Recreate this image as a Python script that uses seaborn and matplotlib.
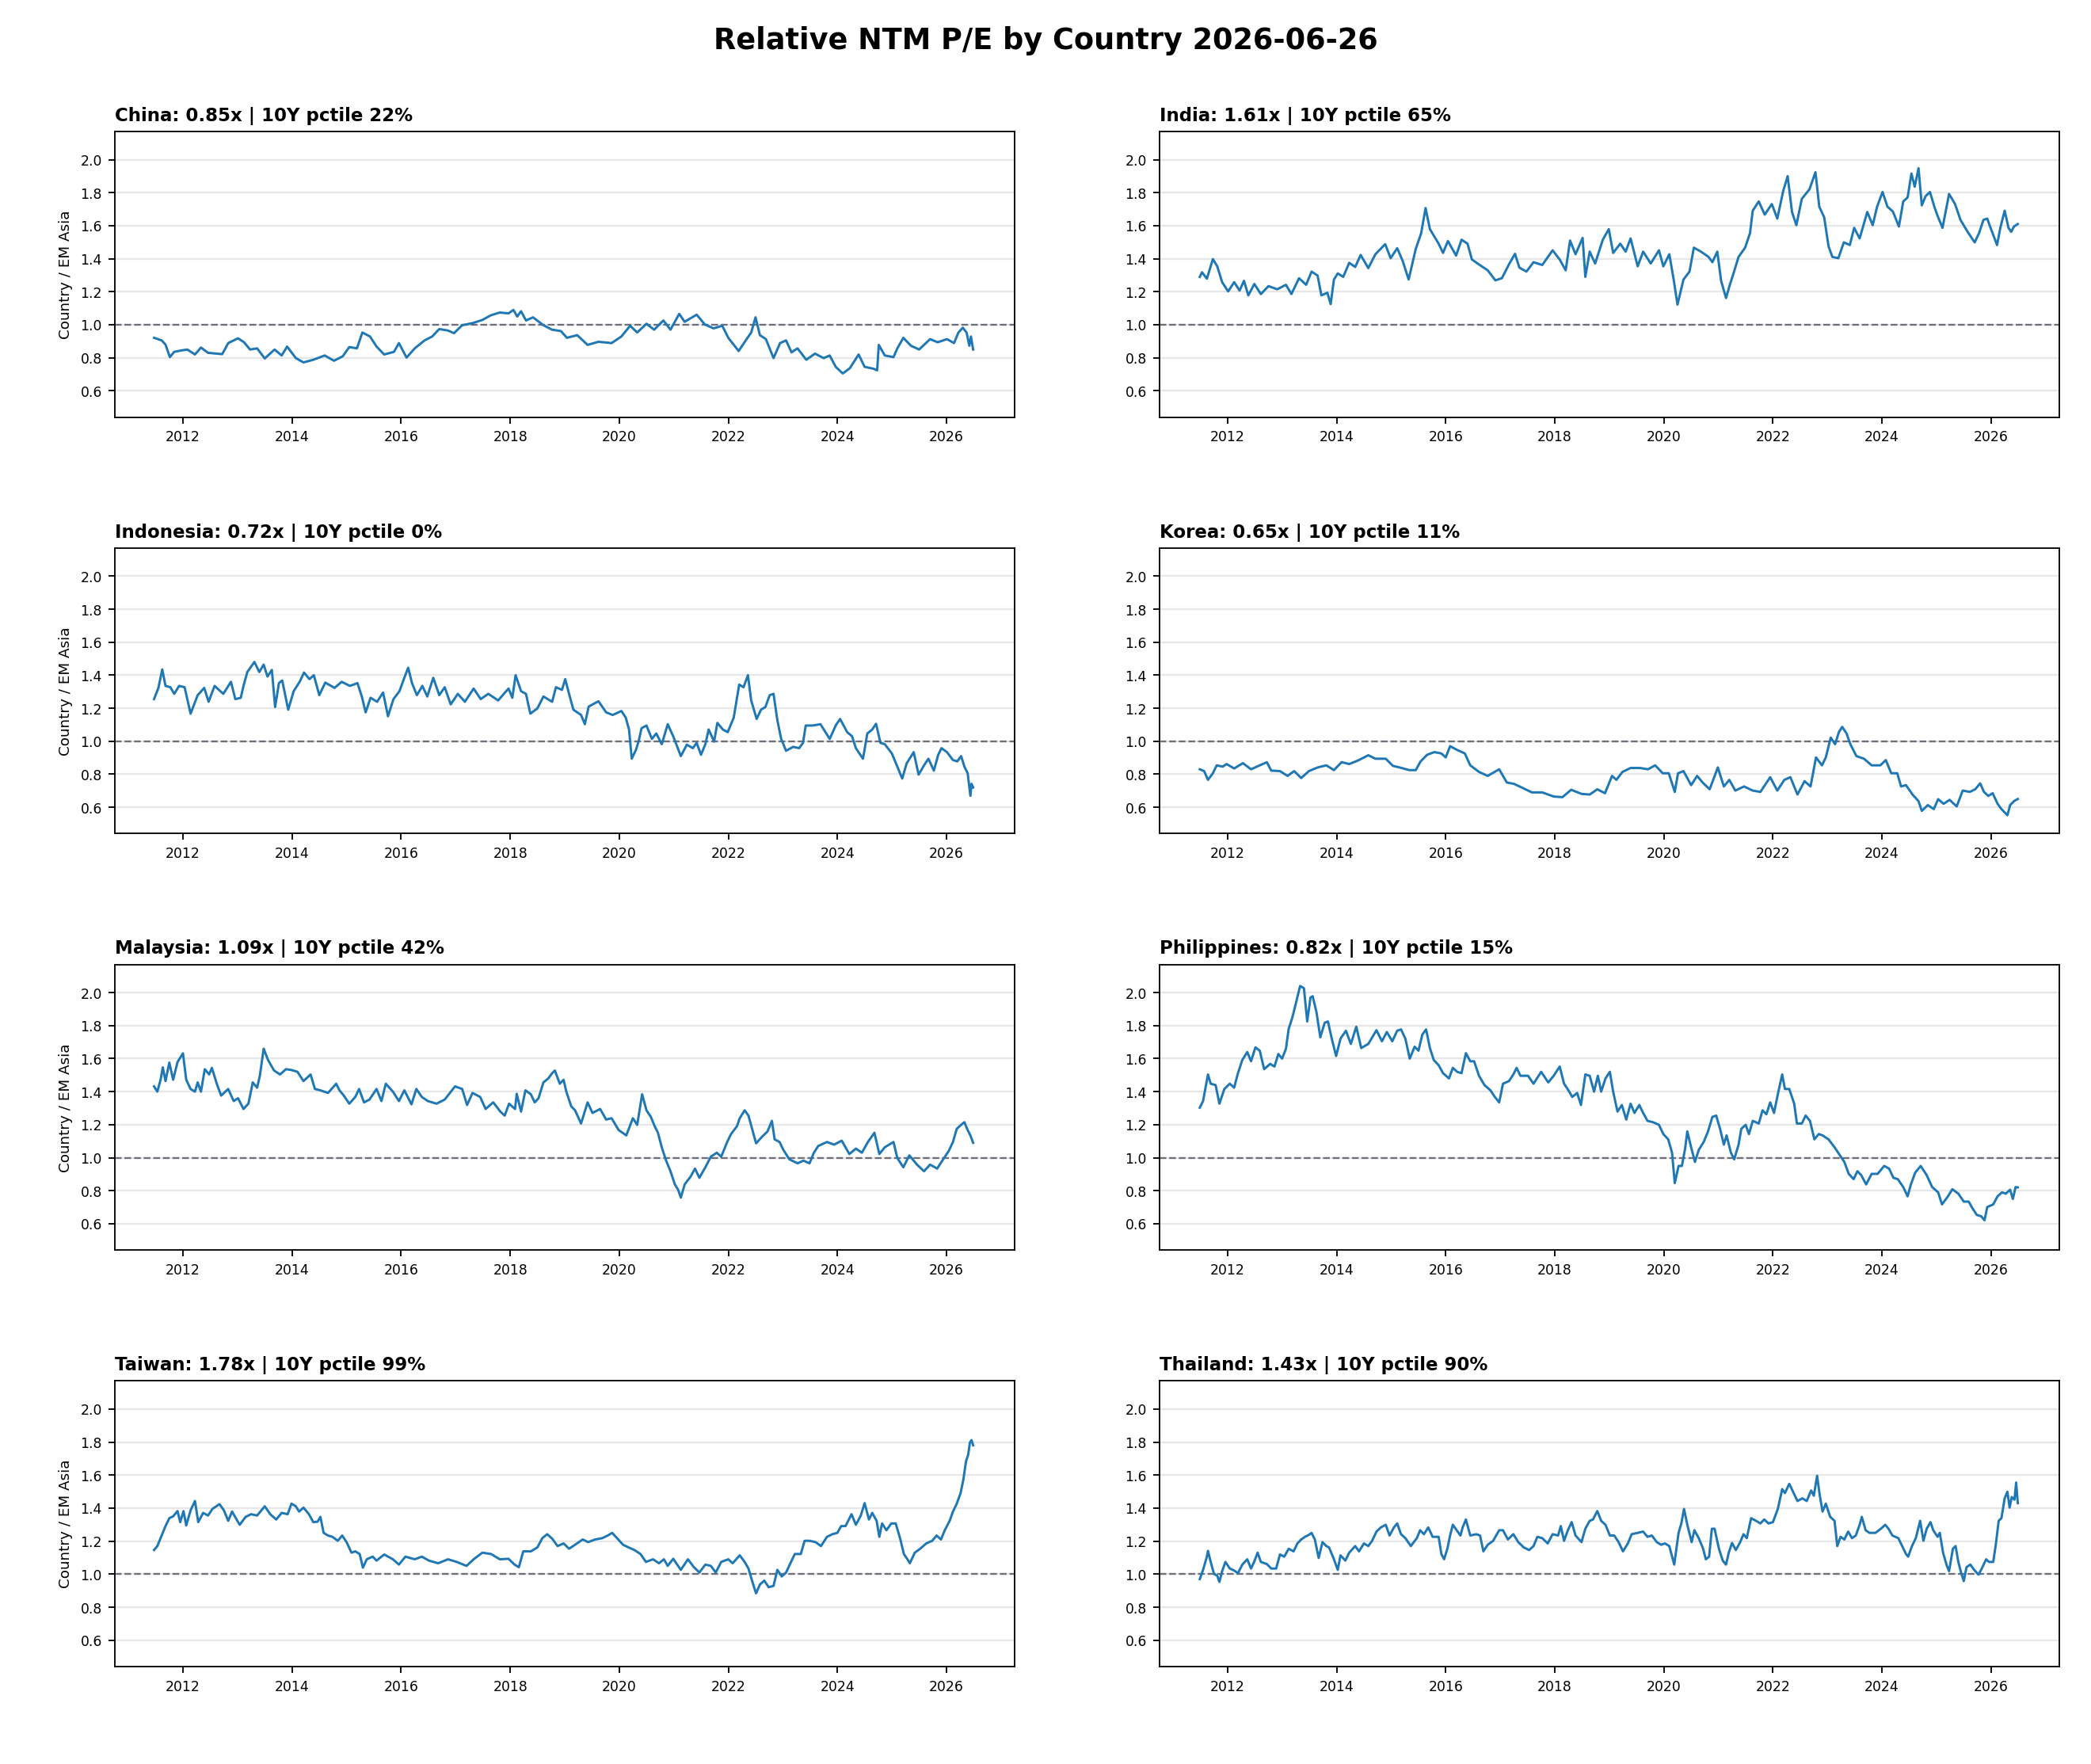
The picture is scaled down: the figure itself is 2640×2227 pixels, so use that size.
import numpy as np
import pandas as pd
import matplotlib
matplotlib.use("Agg")
import matplotlib.pyplot as plt
import seaborn as sns

TITLE = "Relative NTM P/E by Country 2026-06-26"
COUNTRIES = ["China", "India", "Indonesia", "Korea", "Malaysia", "Philippines", "Taiwan", "Thailand"]
LATEST = [0.85, 1.61, 0.72, 0.65, 1.09, 0.82, 1.78, 1.43]
PCTILE = [22, 65, 0, 11, 42, 15, 99, 90]
YTICKS = [0.6, 0.8, 1.0, 1.2, 1.4, 1.6, 1.8, 2.0]
YLABEL = "Country / EM Asia"

# (decimal year, relative P/E)
china = [(2011.47,0.921),(2011.61,0.905),(2011.68,0.88),(2011.76,0.804),(2011.84,0.836),(2011.98,0.845),
(2012.08,0.85),(2012.22,0.82),(2012.33,0.862),(2012.46,0.83),(2012.72,0.822),(2012.83,0.889),(2013.01,0.918),
(2013.12,0.894),(2013.23,0.85),(2013.36,0.857),(2013.50,0.796),(2013.68,0.85),(2013.81,0.814),(2013.91,0.868),
(2014.07,0.798),(2014.21,0.772),(2014.39,0.788),(2014.60,0.814),(2014.77,0.782),(2014.93,0.809),(2015.05,0.865),
(2015.19,0.857),(2015.29,0.953),(2015.43,0.929),(2015.55,0.868),(2015.69,0.82),(2015.87,0.836),(2015.96,0.889),
(2016.10,0.801),(2016.25,0.857),(2016.43,0.905),(2016.57,0.929),(2016.70,0.974),(2016.86,0.965),(2016.97,0.949),
(2017.12,0.997),(2017.31,1.01),(2017.49,1.029),(2017.65,1.058),(2017.81,1.074),(2017.97,1.069),(2018.06,1.09),
(2018.13,1.05),(2018.20,1.082),(2018.29,1.026),(2018.42,1.045),(2018.61,0.997),(2018.77,0.97),(2018.93,0.962),
(2019.04,0.921),(2019.23,0.937),(2019.42,0.878),(2019.62,0.897),(2019.86,0.889),(2020.04,0.929),(2020.20,0.994),
(2020.33,0.953),(2020.50,1.006),(2020.64,0.97),(2020.81,1.026),(2020.94,0.97),(2021.10,1.066),(2021.20,1.018),
(2021.42,1.061),(2021.57,1.002),(2021.73,0.978),(2021.89,0.994),(2022.00,0.921),(2022.19,0.841),(2022.32,0.905),
(2022.42,0.953),(2022.50,1.045),(2022.58,0.937),(2022.69,0.913),(2022.83,0.798),(2022.95,0.889),(2023.06,0.905),
(2023.16,0.833),(2023.27,0.857),(2023.43,0.788),(2023.59,0.825),(2023.75,0.798),(2023.86,0.814),(2023.97,0.745),
(2024.10,0.705),(2024.23,0.737),(2024.39,0.82),(2024.50,0.745),(2024.66,0.734),(2024.73,0.724),(2024.76,0.878),
(2024.87,0.814),(2025.03,0.804),(2025.10,0.857),(2025.21,0.921),(2025.35,0.873),(2025.50,0.85),(2025.70,0.913),
(2025.84,0.894),(2026.01,0.913),(2026.14,0.889),(2026.22,0.953),(2026.30,0.982),(2026.37,0.953),(2026.42,0.873),
(2026.45,0.929),(2026.49,0.85)]

india = [(2011.49,1.29),(2011.53,1.318),(2011.62,1.279),(2011.66,1.322),(2011.73,1.398),(2011.81,1.354),(2011.90,1.258),
(2012.01,1.202),(2012.12,1.258),(2012.22,1.207),(2012.30,1.266),(2012.38,1.178),(2012.49,1.247),(2012.61,1.186),
(2012.75,1.234),(2012.91,1.215),(2013.07,1.242),(2013.17,1.186),(2013.31,1.282),(2013.44,1.242),(2013.54,1.322),
(2013.65,1.298),(2013.72,1.178),(2013.83,1.194),(2013.89,1.125),(2013.95,1.274),(2014.02,1.311),(2014.12,1.29),
(2014.23,1.375),(2014.34,1.35),(2014.44,1.423),(2014.58,1.343),(2014.71,1.427),(2014.89,1.488),(2014.99,1.403),
(2015.11,1.464),(2015.21,1.387),(2015.32,1.274),(2015.45,1.459),(2015.55,1.555),(2015.63,1.707),(2015.71,1.579),
(2015.87,1.491),(2015.95,1.435),(2016.04,1.507),(2016.19,1.419),(2016.29,1.515),(2016.40,1.491),(2016.48,1.395),
(2016.66,1.354),(2016.77,1.33),(2016.91,1.269),(2017.03,1.282),(2017.16,1.366),(2017.27,1.43),(2017.35,1.346),
(2017.48,1.322),(2017.61,1.379),(2017.77,1.362),(2017.96,1.451),(2018.09,1.395),(2018.20,1.33),(2018.28,1.51),
(2018.38,1.427),(2018.51,1.526),(2018.56,1.29),(2018.64,1.443),(2018.74,1.371),(2018.88,1.515),(2018.99,1.579),
(2019.07,1.435),(2019.20,1.491),(2019.30,1.443),(2019.39,1.523),(2019.52,1.354),(2019.62,1.443),(2019.76,1.371),
(2019.91,1.451),(2019.99,1.354),(2020.10,1.427),(2020.18,1.274),(2020.25,1.122),(2020.36,1.274),(2020.47,1.322),
(2020.55,1.467),(2020.68,1.443),(2020.82,1.411),(2020.89,1.379),(2020.98,1.443),(2021.05,1.266),(2021.14,1.162),
(2021.21,1.242),(2021.28,1.314),(2021.37,1.411),(2021.49,1.467),(2021.58,1.555),(2021.63,1.691),(2021.74,1.747),
(2021.85,1.667),(2021.98,1.731),(2022.08,1.643),(2022.19,1.812),(2022.27,1.9),(2022.35,1.683),(2022.43,1.603),
(2022.53,1.763),(2022.67,1.82),(2022.78,1.924),(2022.85,1.715),(2022.94,1.651),(2023.02,1.475),(2023.09,1.411),
(2023.20,1.403),(2023.30,1.499),(2023.41,1.483),(2023.49,1.587),(2023.59,1.523),(2023.73,1.683),(2023.83,1.603),
(2023.91,1.715),(2024.01,1.804),(2024.10,1.715),(2024.20,1.686),(2024.31,1.595),(2024.39,1.747),(2024.47,1.771),
(2024.54,1.916),(2024.60,1.836),(2024.67,1.948),(2024.73,1.723),(2024.80,1.779),(2024.88,1.804),(2024.96,1.715),
(2025.02,1.659),(2025.11,1.587),(2025.23,1.792),(2025.34,1.731),(2025.44,1.635),(2025.57,1.563),(2025.70,1.499),
(2025.78,1.555),(2025.86,1.635),(2025.93,1.643),(2026.00,1.579),(2026.11,1.483),(2026.17,1.587),(2026.25,1.691),
(2026.32,1.587),(2026.37,1.563),(2026.42,1.595),(2026.49,1.61)]

indonesia = [(2011.47,1.255),(2011.55,1.323),(2011.62,1.435),(2011.68,1.335),(2011.77,1.327),(2011.84,1.287),
(2011.93,1.335),(2012.03,1.327),(2012.14,1.167),(2012.27,1.279),(2012.39,1.323),(2012.47,1.239),(2012.58,1.335),
(2012.74,1.287),(2012.88,1.36),(2012.96,1.255),(2013.06,1.263),(2013.11,1.335),(2013.18,1.419),(2013.31,1.48),
(2013.40,1.419),(2013.48,1.464),(2013.55,1.392),(2013.63,1.432),(2013.69,1.207),(2013.76,1.352),(2013.82,1.368),
(2013.93,1.191),(2014.03,1.303),(2014.14,1.36),(2014.22,1.416),(2014.32,1.376),(2014.40,1.4),(2014.50,1.279),
(2014.61,1.355),(2014.78,1.323),(2014.91,1.36),(2015.06,1.335),(2015.20,1.352),(2015.28,1.271),(2015.35,1.175),
(2015.44,1.263),(2015.56,1.239),(2015.67,1.295),(2015.76,1.151),(2015.86,1.255),(2015.97,1.303),(2016.05,1.376),
(2016.13,1.445),(2016.20,1.352),(2016.29,1.279),(2016.39,1.335),(2016.48,1.271),(2016.59,1.384),(2016.70,1.279),
(2016.80,1.327),(2016.91,1.223),(2017.04,1.287),(2017.17,1.239),(2017.33,1.319),(2017.46,1.255),(2017.60,1.287),
(2017.78,1.247),(2017.97,1.319),(2018.04,1.263),(2018.10,1.4),(2018.20,1.303),(2018.29,1.287),(2018.37,1.167),
(2018.50,1.199),(2018.61,1.271),(2018.77,1.239),(2018.84,1.327),(2018.95,1.311),(2019.01,1.376),(2019.08,1.287),
(2019.16,1.191),(2019.30,1.159),(2019.37,1.103),(2019.44,1.21),(2019.62,1.242),(2019.76,1.175),(2019.88,1.159),
(2020.04,1.183),(2020.12,1.143),(2020.18,1.071),(2020.23,0.894),(2020.31,0.95),(2020.36,1.006),(2020.41,1.079),
(2020.50,1.095),(2020.60,1.014),(2020.68,1.047),(2020.78,0.982),(2020.89,1.103),(2020.99,1.03),(2021.13,0.91),
(2021.24,0.979),(2021.35,0.958),(2021.42,0.99),(2021.50,0.918),(2021.58,0.982),(2021.64,1.071),(2021.74,0.998),
(2021.80,1.111),(2021.90,1.071),(2021.99,1.055),(2022.10,1.143),(2022.20,1.343),(2022.28,1.327),(2022.36,1.4),
(2022.42,1.247),(2022.52,1.135),(2022.60,1.191),(2022.68,1.207),(2022.76,1.279),(2022.83,1.287),(2022.90,1.127),
(2022.97,1.014),(2023.06,0.942),(2023.19,0.966),(2023.30,0.958),(2023.37,0.99),(2023.42,1.095),(2023.55,1.095),
(2023.69,1.103),(2023.86,1.014),(2023.97,1.095),(2024.05,1.135),(2024.18,1.055),(2024.27,1.03),(2024.34,0.958),
(2024.47,0.894),(2024.55,1.047),(2024.64,1.071),(2024.71,1.106),(2024.79,0.99),(2024.87,0.982),(2025.00,0.926),
(2025.10,0.846),(2025.19,0.774),(2025.27,0.865),(2025.40,0.934),(2025.49,0.798),(2025.59,0.854),(2025.67,0.894),
(2025.77,0.822),(2025.85,0.918),(2025.91,0.958),(2026.01,0.934),(2026.12,0.886),(2026.20,0.878),(2026.27,0.91),
(2026.33,0.846),(2026.39,0.806),(2026.44,0.669),(2026.46,0.742),(2026.49,0.72)]

korea = [(2011.49,0.83),(2011.57,0.819),(2011.64,0.766),(2011.73,0.806),(2011.80,0.854),(2011.91,0.846),(2011.98,0.862),
(2012.12,0.835),(2012.28,0.867),(2012.43,0.83),(2012.59,0.854),(2012.72,0.873),(2012.80,0.822),(2012.96,0.819),
(2013.10,0.79),(2013.22,0.819),(2013.35,0.777),(2013.49,0.819),(2013.65,0.841),(2013.81,0.854),(2013.95,0.825),
(2014.09,0.873),(2014.23,0.862),(2014.39,0.883),(2014.58,0.915),(2014.71,0.894),(2014.90,0.894),(2015.03,0.851),
(2015.19,0.838),(2015.33,0.825),(2015.45,0.825),(2015.54,0.878),(2015.66,0.918),(2015.79,0.934),(2015.92,0.926),
(2016.00,0.902),(2016.08,0.97),(2016.21,0.947),(2016.35,0.926),(2016.45,0.854),(2016.61,0.814),(2016.77,0.79),
(2016.98,0.83),(2017.12,0.75),(2017.25,0.742),(2017.41,0.717),(2017.58,0.69),(2017.77,0.69),(2017.98,0.665),
(2018.14,0.661),(2018.30,0.706),(2018.49,0.681),(2018.64,0.677),(2018.78,0.709),(2018.92,0.685),(2019.05,0.79),
(2019.13,0.766),(2019.24,0.814),(2019.39,0.838),(2019.56,0.838),(2019.71,0.83),(2019.84,0.854),(2019.98,0.806),
(2020.09,0.806),(2020.20,0.693),(2020.26,0.806),(2020.36,0.819),(2020.50,0.734),(2020.61,0.79),(2020.71,0.75),
(2020.84,0.709),(2020.99,0.841),(2021.10,0.726),(2021.20,0.766),(2021.31,0.701),(2021.47,0.726),(2021.63,0.701),
(2021.77,0.693),(2021.95,0.782),(2022.08,0.701),(2022.21,0.766),(2022.32,0.782),(2022.45,0.677),(2022.58,0.758),
(2022.69,0.726),(2022.79,0.902),(2022.90,0.854),(2022.97,0.902),(2023.06,1.022),(2023.14,0.982),(2023.21,1.055),
(2023.27,1.087),(2023.35,1.047),(2023.42,0.982),(2023.53,0.91),(2023.67,0.894),(2023.81,0.854),(2023.97,0.854),
(2024.07,0.886),(2024.17,0.806),(2024.28,0.806),(2024.35,0.726),(2024.44,0.734),(2024.56,0.677),(2024.67,0.637),
(2024.73,0.578),(2024.84,0.613),(2024.95,0.589),(2025.03,0.649),(2025.13,0.621),(2025.24,0.645),(2025.37,0.605),
(2025.48,0.701),(2025.61,0.693),(2025.71,0.709),(2025.80,0.745),(2025.87,0.693),(2025.95,0.669),(2026.03,0.685),
(2026.12,0.621),(2026.19,0.589),(2026.30,0.552),(2026.35,0.613),(2026.42,0.637),(2026.49,0.65)]

malaysia = [(2011.47,1.432),(2011.53,1.4),(2011.59,1.472),(2011.63,1.547),(2011.68,1.464),(2011.75,1.576),(2011.82,1.472),
(2011.90,1.579),(2012.00,1.632),(2012.06,1.472),(2012.14,1.416),(2012.22,1.4),(2012.27,1.456),(2012.33,1.4),
(2012.40,1.536),(2012.48,1.504),(2012.53,1.544),(2012.62,1.448),(2012.70,1.376),(2012.83,1.416),(2012.93,1.343),
(2013.01,1.36),(2013.11,1.295),(2013.20,1.327),(2013.28,1.456),(2013.36,1.424),(2013.41,1.496),(2013.48,1.66),
(2013.56,1.592),(2013.67,1.528),(2013.78,1.504),(2013.89,1.536),(2013.99,1.531),(2014.10,1.52),(2014.21,1.464),
(2014.34,1.504),(2014.42,1.416),(2014.52,1.408),(2014.66,1.392),(2014.81,1.448),(2014.87,1.408),(2014.95,1.376),
(2015.05,1.327),(2015.16,1.368),(2015.23,1.416),(2015.32,1.335),(2015.42,1.352),(2015.55,1.416),(2015.64,1.343),
(2015.72,1.448),(2015.85,1.4),(2015.96,1.343),(2016.06,1.408),(2016.19,1.323),(2016.28,1.416),(2016.38,1.368),
(2016.49,1.343),(2016.65,1.327),(2016.80,1.352),(2016.99,1.432),(2017.12,1.416),(2017.21,1.319),(2017.31,1.392),
(2017.45,1.368),(2017.55,1.295),(2017.69,1.335),(2017.82,1.279),(2017.90,1.255),(2017.98,1.327),(2018.09,1.295),
(2018.12,1.387),(2018.20,1.279),(2018.28,1.408),(2018.38,1.384),(2018.45,1.335),(2018.52,1.36),(2018.61,1.456),
(2018.70,1.48),(2018.77,1.512),(2018.82,1.528),(2018.91,1.448),(2018.98,1.472),(2019.03,1.4),(2019.12,1.311),
(2019.19,1.287),(2019.30,1.207),(2019.42,1.335),(2019.51,1.271),(2019.65,1.295),(2019.76,1.231),(2019.86,1.239),
(2019.99,1.167),(2020.13,1.135),(2020.25,1.239),(2020.33,1.199),(2020.42,1.384),(2020.50,1.287),(2020.58,1.247),
(2020.65,1.191),(2020.71,1.151),(2020.78,1.063),(2020.86,0.982),(2020.94,0.918),(2021.02,0.838),(2021.08,0.806),
(2021.13,0.758),(2021.20,0.838),(2021.31,0.886),(2021.39,0.934),(2021.47,0.878),(2021.58,0.942),(2021.68,1.006),
(2021.79,1.03),(2021.87,1.006),(2021.98,1.095),(2022.05,1.143),(2022.16,1.191),(2022.21,1.239),(2022.30,1.287),
(2022.37,1.255),(2022.45,1.159),(2022.51,1.087),(2022.62,1.127),(2022.72,1.159),(2022.80,1.223),(2022.85,1.111),
(2022.94,1.095),(2023.01,1.047),(2023.12,0.99),(2023.27,0.966),(2023.38,0.982),(2023.49,0.966),(2023.57,1.03),
(2023.65,1.071),(2023.81,1.095),(2023.94,1.079),(2024.08,1.103),(2024.22,1.022),(2024.34,1.055),(2024.45,1.03),
(2024.56,1.095),(2024.68,1.151),(2024.77,1.022),(2024.87,1.063),(2025.03,1.095),(2025.10,0.998),(2025.21,0.942),
(2025.32,1.014),(2025.46,0.958),(2025.59,0.918),(2025.70,0.958),(2025.83,0.934),(2025.94,0.99),(2026.04,1.039),
(2026.12,1.095),(2026.19,1.175),(2026.27,1.199),(2026.33,1.215),(2026.39,1.167),(2026.44,1.135),(2026.49,1.09)]

philippines = [(2011.49,1.303),(2011.55,1.343),(2011.64,1.504),(2011.69,1.448),(2011.78,1.44),(2011.85,1.327),
(2011.94,1.416),(2012.04,1.448),(2012.12,1.424),(2012.19,1.512),(2012.27,1.592),(2012.36,1.64),(2012.43,1.584),
(2012.51,1.668),(2012.59,1.648),(2012.67,1.536),(2012.78,1.568),(2012.86,1.552),(2012.93,1.628),(2013.00,1.6),
(2013.07,1.66),(2013.12,1.78),(2013.19,1.852),(2013.26,1.945),(2013.33,2.04),(2013.40,2.026),(2013.46,1.825),
(2013.52,1.97),(2013.56,1.978),(2013.63,1.881),(2013.70,1.729),(2013.78,1.817),(2013.84,1.825),(2013.91,1.721),
(2013.99,1.616),(2014.07,1.721),(2014.17,1.769),(2014.26,1.689),(2014.36,1.793),(2014.45,1.664),(2014.58,1.689),
(2014.73,1.772),(2014.83,1.705),(2014.92,1.761),(2015.02,1.705),(2015.11,1.769),(2015.18,1.777),(2015.26,1.721),
(2015.34,1.6),(2015.43,1.672),(2015.50,1.648),(2015.57,1.745),(2015.64,1.777),(2015.71,1.664),(2015.78,1.592),
(2015.87,1.56),(2015.95,1.512),(2016.06,1.48),(2016.13,1.544),(2016.21,1.52),(2016.29,1.512),(2016.37,1.633),
(2016.45,1.584),(2016.52,1.584),(2016.61,1.496),(2016.71,1.44),(2016.82,1.408),(2016.90,1.368),(2016.98,1.335),
(2017.05,1.448),(2017.16,1.464),(2017.24,1.504),(2017.30,1.544),(2017.37,1.496),(2017.51,1.496),(2017.61,1.448),
(2017.75,1.52),(2017.88,1.456),(2017.98,1.496),(2018.09,1.552),(2018.17,1.448),(2018.25,1.408),(2018.32,1.368),
(2018.41,1.392),(2018.48,1.319),(2018.56,1.504),(2018.64,1.496),(2018.72,1.4),(2018.79,1.496),(2018.85,1.4),
(2018.93,1.48),(2019.01,1.52),(2019.07,1.4),(2019.15,1.279),(2019.23,1.319),(2019.31,1.231),(2019.39,1.327),
(2019.46,1.271),(2019.55,1.319),(2019.62,1.271),(2019.70,1.223),(2019.80,1.215),(2019.91,1.199),(2019.99,1.143),
(2020.08,1.111),(2020.15,1.03),(2020.20,0.846),(2020.27,0.95),(2020.33,0.95),(2020.39,1.055),(2020.43,1.159),
(2020.50,1.063),(2020.57,0.974),(2020.64,1.047),(2020.73,1.095),(2020.81,1.159),(2020.89,1.247),(2020.96,1.255),
(2021.03,1.175),(2021.10,1.079),(2021.15,1.135),(2021.23,1.03),(2021.29,0.99),(2021.37,1.079),(2021.42,1.175),
(2021.50,1.199),(2021.56,1.143),(2021.63,1.223),(2021.74,1.207),(2021.81,1.287),(2021.88,1.263),(2021.95,1.335),
(2022.02,1.271),(2022.09,1.384),(2022.17,1.504),(2022.22,1.416),(2022.30,1.416),(2022.39,1.327),(2022.44,1.207),
(2022.53,1.207),(2022.60,1.255),(2022.68,1.223),(2022.76,1.111),(2022.84,1.143),(2022.91,1.135),(2023.02,1.111),
(2023.13,1.063),(2023.23,1.014),(2023.31,0.974),(2023.39,0.902),(2023.48,0.87),(2023.55,0.918),(2023.62,0.894),
(2023.71,0.838),(2023.81,0.902),(2023.92,0.902),(2024.04,0.95),(2024.13,0.934),(2024.21,0.878),(2024.29,0.87),
(2024.39,0.822),(2024.47,0.766),(2024.53,0.838),(2024.61,0.91),(2024.71,0.95),(2024.82,0.894),(2024.92,0.822),
(2025.03,0.79),(2025.10,0.717),(2025.21,0.766),(2025.29,0.809),(2025.40,0.782),(2025.50,0.734),(2025.59,0.734),
(2025.66,0.693),(2025.74,0.653),(2025.82,0.645),(2025.88,0.621),(2025.93,0.701),(2026.04,0.717),(2026.12,0.766),
(2026.20,0.79),(2026.27,0.782),(2026.35,0.806),(2026.40,0.75),(2026.45,0.822),(2026.49,0.82)]

taiwan = [(2011.47,1.146),(2011.53,1.17),(2011.61,1.234),(2011.68,1.291),(2011.75,1.339),(2011.82,1.35),(2011.90,1.382),
(2011.95,1.315),(2012.01,1.382),(2012.06,1.295),(2012.14,1.387),(2012.22,1.443),(2012.28,1.315),(2012.37,1.371),
(2012.46,1.355),(2012.54,1.395),(2012.67,1.424),(2012.75,1.387),(2012.83,1.323),(2012.90,1.379),(2013.04,1.299),
(2013.15,1.347),(2013.25,1.363),(2013.36,1.355),(2013.50,1.411),(2013.60,1.363),(2013.71,1.331),(2013.81,1.371),
(2013.92,1.363),(2013.99,1.427),(2014.07,1.411),(2014.13,1.379),(2014.21,1.403),(2014.31,1.363),(2014.39,1.315),
(2014.47,1.318),(2014.52,1.347),(2014.58,1.25),(2014.66,1.234),(2014.74,1.226),(2014.84,1.202),(2014.92,1.234),
(2015.00,1.194),(2015.09,1.13),(2015.16,1.138),(2015.24,1.122),(2015.30,1.039),(2015.37,1.09),(2015.48,1.106),
(2015.55,1.082),(2015.69,1.119),(2015.85,1.09),(2015.96,1.058),(2016.08,1.106),(2016.25,1.09),(2016.38,1.106),
(2016.51,1.082),(2016.68,1.066),(2016.86,1.09),(2017.02,1.074),(2017.20,1.05),(2017.33,1.09),(2017.49,1.13),
(2017.65,1.122),(2017.81,1.09),(2017.97,1.093),(2018.08,1.058),(2018.16,1.042),(2018.24,1.138),(2018.38,1.138),
(2018.50,1.162),(2018.59,1.218),(2018.68,1.242),(2018.77,1.215),(2018.87,1.17),(2018.98,1.186),(2019.08,1.154),
(2019.19,1.178),(2019.33,1.21),(2019.43,1.194),(2019.56,1.21),(2019.69,1.218),(2019.79,1.234),(2019.87,1.25),
(2019.96,1.218),(2020.07,1.178),(2020.17,1.162),(2020.28,1.146),(2020.39,1.122),(2020.49,1.074),(2020.62,1.09),
(2020.73,1.066),(2020.82,1.09),(2020.89,1.05),(2020.99,1.093),(2021.13,1.026),(2021.26,1.09),(2021.37,1.042),
(2021.47,1.01),(2021.58,1.058),(2021.68,1.05),(2021.77,1.01),(2021.87,1.074),(2022.00,1.09),(2022.08,1.066),
(2022.21,1.114),(2022.30,1.074),(2022.37,1.034),(2022.42,0.978),(2022.48,0.913),(2022.51,0.884),(2022.58,0.937),
(2022.66,0.961),(2022.74,0.921),(2022.83,0.929),(2022.90,1.026),(2022.98,0.986),(2023.06,1.01),(2023.15,1.074),
(2023.22,1.122),(2023.33,1.122),(2023.40,1.202),(2023.49,1.202),(2023.60,1.194),(2023.70,1.17),(2023.81,1.226),
(2023.91,1.242),(2024.00,1.25),(2024.07,1.291),(2024.15,1.291),(2024.26,1.363),(2024.34,1.299),(2024.43,1.355),
(2024.50,1.43),(2024.58,1.331),(2024.64,1.371),(2024.72,1.323),(2024.77,1.226),(2024.82,1.307),(2024.90,1.266),
(2024.99,1.307),(2025.07,1.307),(2025.15,1.218),(2025.22,1.122),(2025.28,1.093),(2025.33,1.066),(2025.42,1.13),
(2025.52,1.154),(2025.63,1.186),(2025.74,1.202),(2025.82,1.234),(2025.90,1.21),(2025.97,1.266),(2026.06,1.323),
(2026.12,1.379),(2026.19,1.427),(2026.26,1.491),(2026.31,1.571),(2026.36,1.684),(2026.40,1.724),(2026.43,1.796),
(2026.46,1.812),(2026.49,1.78)]

thailand = [(2011.49,0.97),(2011.55,1.026),(2011.62,1.106),(2011.64,1.141),(2011.69,1.074),(2011.75,1.002),(2011.81,0.99),
(2011.85,0.953),(2011.90,1.018),(2011.96,1.074),(2012.04,1.034),(2012.12,1.022),(2012.19,1.006),(2012.27,1.058),
(2012.36,1.09),(2012.43,1.034),(2012.49,1.077),(2012.55,1.13),(2012.61,1.074),(2012.72,1.061),(2012.80,1.034),
(2012.89,1.034),(2012.96,1.119),(2013.04,1.106),(2013.12,1.154),(2013.21,1.138),(2013.28,1.186),(2013.35,1.21),
(2013.42,1.226),(2013.49,1.238),(2013.54,1.25),(2013.60,1.21),(2013.67,1.098),(2013.74,1.194),(2013.81,1.17),
(2013.86,1.162),(2013.95,1.09),(2014.02,1.026),(2014.07,1.114),(2014.16,1.082),(2014.23,1.13),(2014.34,1.17),
(2014.41,1.138),(2014.50,1.186),(2014.58,1.17),(2014.65,1.202),(2014.73,1.258),(2014.81,1.283),(2014.90,1.299),
(2014.97,1.234),(2015.05,1.283),(2015.11,1.307),(2015.18,1.242),(2015.26,1.218),(2015.36,1.17),(2015.47,1.218),
(2015.53,1.266),(2015.60,1.242),(2015.68,1.283),(2015.76,1.226),(2015.87,1.226),(2015.92,1.122),(2015.97,1.09),
(2016.03,1.154),(2016.08,1.234),(2016.13,1.299),(2016.20,1.266),(2016.27,1.234),(2016.31,1.283),(2016.37,1.331),
(2016.45,1.234),(2016.56,1.242),(2016.63,1.234),(2016.69,1.138),(2016.77,1.178),(2016.87,1.202),(2016.98,1.266),
(2017.05,1.266),(2017.14,1.21),(2017.24,1.242),(2017.33,1.194),(2017.43,1.162),(2017.53,1.146),(2017.61,1.17),
(2017.68,1.226),(2017.77,1.218),(2017.87,1.186),(2017.96,1.242),(2018.06,1.234),(2018.11,1.291),(2018.17,1.202),
(2018.24,1.266),(2018.31,1.315),(2018.38,1.234),(2018.49,1.194),(2018.56,1.275),(2018.64,1.323),(2018.70,1.331),
(2018.78,1.382),(2018.85,1.323),(2018.93,1.299),(2019.01,1.234),(2019.09,1.234),(2019.17,1.194),(2019.25,1.138),
(2019.34,1.186),(2019.41,1.242),(2019.52,1.25),(2019.62,1.258),(2019.70,1.226),(2019.78,1.234),(2019.87,1.194),
(2019.95,1.178),(2020.02,1.186),(2020.10,1.17),(2020.19,1.058),(2020.27,1.25),(2020.32,1.307),(2020.37,1.395),
(2020.43,1.299),(2020.51,1.194),(2020.56,1.266),(2020.64,1.218),(2020.72,1.154),(2020.77,1.09),(2020.83,1.106),
(2020.88,1.275),(2020.93,1.275),(2021.01,1.154),(2021.08,1.082),(2021.14,1.058),(2021.19,1.13),(2021.25,1.189),
(2021.32,1.146),(2021.40,1.194),(2021.46,1.242),(2021.52,1.218),(2021.60,1.339),(2021.69,1.323),(2021.77,1.307),
(2021.84,1.331),(2021.92,1.307),(2022.00,1.315),(2022.09,1.395),(2022.17,1.515),(2022.22,1.491),(2022.30,1.547),
(2022.38,1.491),(2022.45,1.443),(2022.54,1.459),(2022.62,1.443),(2022.70,1.507),(2022.75,1.475),(2022.81,1.596),
(2022.86,1.475),(2022.91,1.379),(2022.97,1.427),(2023.05,1.347),(2023.13,1.323),(2023.18,1.17),(2023.24,1.226),
(2023.31,1.21),(2023.38,1.258),(2023.45,1.218),(2023.52,1.234),(2023.59,1.299),(2023.63,1.347),(2023.70,1.266),
(2023.77,1.25),(2023.88,1.25),(2023.98,1.275),(2024.06,1.299),(2024.12,1.275),(2024.19,1.234),(2024.30,1.218),
(2024.37,1.17),(2024.44,1.122),(2024.48,1.106),(2024.55,1.17),(2024.62,1.218),(2024.70,1.323),(2024.76,1.202),
(2024.82,1.275),(2024.89,1.315),(2024.94,1.266),(2025.02,1.226),(2025.06,1.25),(2025.12,1.13),(2025.19,1.05),
(2025.23,1.018),(2025.30,1.154),(2025.35,1.17),(2025.40,1.074),(2025.45,1.01),(2025.50,0.958),(2025.55,1.042),
(2025.62,1.058),(2025.69,1.026),(2025.77,0.997),(2025.83,1.034),(2025.91,1.09),(2025.96,1.074),(2026.04,1.074),
(2026.09,1.186),(2026.14,1.323),(2026.19,1.339),(2026.25,1.459),(2026.30,1.499),(2026.34,1.403),(2026.38,1.467),
(2026.43,1.451),(2026.46,1.555),(2026.49,1.43)]

SERIES = [china, india, indonesia, korea, malaysia, philippines, taiwan, thailand]


def to_dates(years):
    years = np.asarray(years, dtype=float)
    return pd.Timestamp("2011-01-01") + pd.to_timedelta((years - 2011.0) * 365.25, unit="D")


plt.rcParams["font.family"] = ["DejaVu Sans"]
fig, axes = plt.subplots(4, 2, figsize=(16, 13.5), dpi=165, sharex=False, sharey=False)
fig.subplots_adjust(left=0.0549, right=0.9848, top=0.9252, bottom=0.0552, wspace=0.161, hspace=0.458)

for i, (ax, name, pts, last, pct) in enumerate(zip(axes.flat, COUNTRIES, SERIES, LATEST, PCTILE)):
    yrs, vals = zip(*pts)
    df = pd.DataFrame({"date": to_dates(yrs), "rel": vals})
    sns.lineplot(data=df, x="date", y="rel", ax=ax, color="#1f77b4", linewidth=1.3,
                 estimator=None, sort=False)
    ax.axhline(1.0, color="#6f6f7b", linestyle="--", linewidth=1.0, zorder=1)
    ax.set_ylim(0.44, 2.17)
    ax.set_yticks(YTICKS)
    ax.set_xlim(to_dates([2010.75])[0], to_dates([2027.25])[0])
    ax.grid(axis="y", color="#b0b0b0", alpha=0.3, linewidth=1.0)
    ax.grid(axis="x", visible=False)
    ax.set_axisbelow(True)
    ax.tick_params(axis="both", labelsize=7.5)
    ax.set_title(f"{name}: {last:.2f}x | 10Y pctile {pct}%", loc="left", fontweight="bold", fontsize=10)
    ax.set_xlabel("")
    if i % 2 == 0:
        ax.set_ylabel(YLABEL, fontsize=8)
    else:
        ax.set_ylabel("")

fig.suptitle(TITLE, fontsize=16, fontweight="bold", y=0.985)
fig.savefig("out.png", dpi=165)
